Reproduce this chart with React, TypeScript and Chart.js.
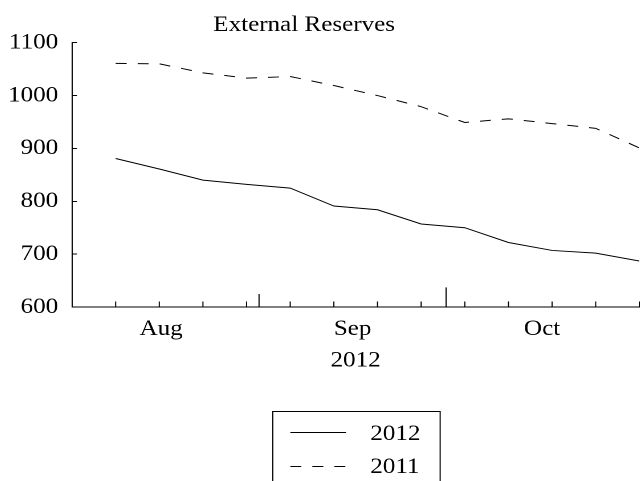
import React, { useEffect, useRef } from "react";
import { Chart, registerables } from "chart.js";

Chart.register(...registerables);

// Days counted from 1 Aug 2012 (Aug 1 = 1, Sep 1 = 32, Oct 1 = 62, Nov 1 = 93)
const weekDays = [9, 16, 23, 30, 37, 44, 51, 58, 65, 72, 79, 86, 93];
const reserves2012 = [881, 861, 840, 832, 825, 791, 784, 757, 750, 722, 707, 702, 687];
const reserves2011 = [1061, 1060, 1043, 1033, 1036, 1019, 1000, 979, 949, 956, 947, 938, 901];
const seriesLabels = ["2012", "2011"];
const monthLabels = ["Aug", "Sep", "Oct"];
const monthLabelDays = [16.3, 47, 77.4];
const monthStartDays = [32, 62];
const xTitle = "2012";
const chartTitle = "External Reserves";

const FONT = "Liberation Serif";
const S = 1.14; // horizontal stretch of the reference rendering
const W0 = 590;
const H0 = 481;
const OFFSET_X = -31.2;

const axisTicksPlugin = {
  id: "axisTicks",
  afterDraw(chart: any) {
    const { ctx, chartArea, scales } = chart;
    const xs = scales.x;
    const bottom = chartArea.bottom;
    ctx.save();
    ctx.fillStyle = "#000";
    const mark = (d: number, len: number) => {
      const p = xs.getPixelForValue(d);
      ctx.fillRect(p - 0.5, bottom - len, 1, len);
    };
    weekDays.forEach((d) => mark(d, 5.5));
    mark(monthStartDays[0], 13);
    mark(monthStartDays[1], 19.6);
    ctx.restore();
  },
};

const boxLegendPlugin = {
  id: "boxLegend",
  afterDraw(chart: any) {
    const { ctx, chartArea } = chart;
    const cx = (chartArea.left + chartArea.right) / 2;
    const top = chartArea.bottom + 104;
    ctx.save();
    ctx.strokeStyle = "#000";
    ctx.lineWidth = 1;
    ctx.setLineDash([]);
    ctx.strokeRect(Math.round(cx - 73.4) + 0.5, Math.round(top) + 0.5, 146.8, 200);
    ctx.font = `22px "${FONT}"`;
    ctx.fillStyle = "#000";
    ctx.textAlign = "left";
    ctx.textBaseline = "middle";
    chart.data.datasets.forEach((ds: any, i: number) => {
      const rowY = top + 23 + i * 33.4;
      ctx.setLineDash(ds.borderDash || []);
      ctx.beginPath();
      ctx.moveTo(cx - 57.3, Math.round(rowY - 1.6) + 0.5);
      ctx.lineTo(cx - 8.5, Math.round(rowY - 1.6) + 0.5);
      ctx.stroke();
      ctx.setLineDash([]);
      ctx.fillText(ds.label, cx + 12.8, rowY);
    });
    ctx.restore();
  },
};

export default function App() {
  const canvasRef = useRef<HTMLCanvasElement | null>(null);

  useEffect(() => {
    const canvas = canvasRef.current;
    if (!canvas) return;
    const font = { family: FONT, size: 22, weight: "normal" as const };
    const chart = new Chart(canvas, {
      type: "line",
      data: {
        datasets: [
          {
            label: seriesLabels[0],
            data: weekDays.map((d, i) => ({ x: d, y: reserves2012[i] })),
            borderColor: "#000",
            borderWidth: 1,
            pointRadius: 0,
            tension: 0,
            fill: false,
          },
          {
            label: seriesLabels[1],
            data: weekDays.map((d, i) => ({ x: d, y: reserves2011[i] })),
            borderColor: "#000",
            borderWidth: 1,
            borderDash: [11 / S, 11 / S],
            pointRadius: 0,
            tension: 0,
            fill: false,
          },
        ],
      },
      options: {
        responsive: false,
        maintainAspectRatio: false,
        animation: false,
        devicePixelRatio: 2,
        layout: { padding: { top: 0, left: 0, right: 2, bottom: 94 } },
        plugins: {
          legend: { display: false },
          tooltip: { enabled: false },
          title: {
            display: true,
            text: chartTitle,
            color: "#000",
            font,
            padding: { top: 12.1, bottom: 4.2 },
          },
        },
        scales: {
          x: {
            type: "linear",
            position: "bottom",
            min: 2,
            max: 93,
            grid: { display: false, drawOnChartArea: false, drawTicks: false },
            border: { display: true, color: "#000", width: 1 },
            afterBuildTicks: (axis: any) => {
              axis.ticks = monthLabelDays.map((v) => ({ value: v }));
            },
            afterFit: (s: any) => {
              s.height = 80;
            },
            ticks: {
              autoSkip: false,
              maxRotation: 0,
              minRotation: 0,
              padding: 8.9,
              color: "#000",
              font,
              callback: (_v: any, i: number) => monthLabels[i],
            },
            title: {
              display: true,
              text: xTitle,
              color: "#000",
              font,
              padding: { top: 0, bottom: 13 },
            },
          },
          y: {
            type: "linear",
            min: 600,
            max: 1100,
            grid: {
              display: true,
              drawOnChartArea: false,
              drawTicks: true,
              tickLength: -4.4,
              color: "#000",
              tickColor: "#000",
            },
            border: { display: true, color: "#000", width: 1 },
            afterFit: (s: any) => {
              s.width = 90.35;
            },
            ticks: {
              stepSize: 100,
              padding: 16.55,
              color: "#000",
              font,
              callback: (v: any) => String(v),
            },
          },
        },
      },
      plugins: [axisTicksPlugin, boxLegendPlugin],
    } as any);
    return () => chart.destroy();
  }, []);

  return (
    <div
      style={{
        position: "fixed",
        left: 0,
        top: 0,
        width: 641,
        height: 481,
        overflow: "hidden",
        background: "#fff",
      }}
    >
      <div
        style={{
          position: "absolute",
          left: OFFSET_X,
          top: 0,
          width: W0,
          height: H0,
          transform: `scaleX(${S})`,
          transformOrigin: "0 0",
        }}
      >
        <canvas
          ref={canvasRef}
          width={W0}
          height={H0}
          style={{ display: "block", width: W0, height: H0 }}
        />
      </div>
    </div>
  );
}
